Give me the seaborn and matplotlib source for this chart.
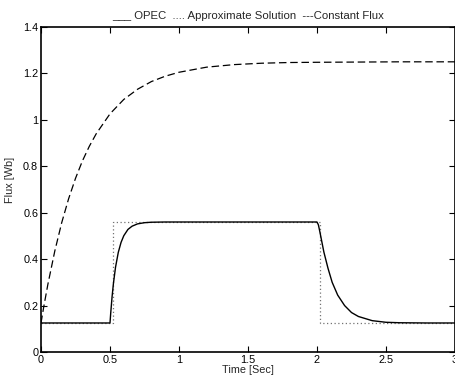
import numpy as np
import pandas as pd
import matplotlib
matplotlib.use("Agg")
import matplotlib.pyplot as plt
import seaborn as sns

# OPEC response (solid)
opec_t = [0.0, 0.5, 0.505, 0.515, 0.525, 0.54, 0.56, 0.58, 0.6, 0.63, 0.66, 0.7, 0.75, 0.8, 0.9, 1.0,
          1.5, 2.0, 2.01, 2.02, 2.05, 2.08, 2.11, 2.15, 2.2, 2.25, 2.3, 2.4, 2.5, 2.6, 2.8, 3.0]
opec_y = [0.125, 0.125, 0.166, 0.238, 0.296, 0.365, 0.429, 0.472, 0.501, 0.528, 0.542, 0.552, 0.557, 0.559, 0.56, 0.56,
          0.56, 0.56, 0.548, 0.52, 0.43, 0.36, 0.30, 0.245, 0.20, 0.17, 0.153, 0.135, 0.128, 0.126, 0.125, 0.125]

# Approximate solution (dotted)
approx_t = [0.0, 0.52, 0.52, 2.02, 2.02, 3.0]
approx_y = [0.125, 0.125, 0.56, 0.56, 0.125, 0.125]

# Constant flux (dashed)
const_t = [0.0, 0.02, 0.05, 0.1, 0.15, 0.2, 0.25, 0.3, 0.35, 0.4, 0.5, 0.6, 0.7, 0.8, 0.9, 1.0,
           1.2, 1.4, 1.6, 1.8, 2.0, 2.3, 2.6, 3.0]
const_y = [0.125, 0.195, 0.292, 0.435, 0.557, 0.660, 0.748, 0.823, 0.886, 0.940, 1.026, 1.088, 1.132, 1.165, 1.188, 1.205,
           1.227, 1.238, 1.244, 1.247, 1.248, 1.249, 1.25, 1.25]

x_ticks = [0, 0.5, 1, 1.5, 2, 2.5, 3]
x_tick_labels = ["0", "0.5", "1", "1.5", "2", "2.5", "3"]
y_ticks = [0, 0.2, 0.4, 0.6, 0.8, 1.0, 1.2, 1.4]
y_tick_labels = ["0", "0.2", "0.4", "0.6", "0.8", "1", "1.2", "1.4"]

sns.set_style("ticks")
plt.rcParams['font.family'] = ['Liberation Sans', 'DejaVu Sans']

fig = plt.figure(figsize=(4.56, 3.85), dpi=100)
ax = fig.add_axes([41/456, 1 - 352/385, 414/456, 325/385])

df_opec = pd.DataFrame({"t": opec_t, "y": opec_y})
df_approx = pd.DataFrame({"t": approx_t, "y": approx_y})
df_const = pd.DataFrame({"t": const_t, "y": const_y})

sns.lineplot(data=df_approx, x="t", y="y", ax=ax, estimator=None, sort=False,
             color="0.45", linewidth=0.9, linestyle=(0, (1, 2)))
sns.lineplot(data=df_opec, x="t", y="y", ax=ax, estimator=None, sort=False,
             color="black", linewidth=1.0)
sns.lineplot(data=df_const, x="t", y="y", ax=ax, estimator=None, sort=False,
             color="black", linewidth=0.9, linestyle=(0, (6, 3)))

ax.set_xlim(0, 3)
ax.set_ylim(0, 1.4)
ax.set_xticks(x_ticks)
ax.set_xticklabels(x_tick_labels)
ax.set_yticks(y_ticks)
ax.set_yticklabels(y_tick_labels)
ax.tick_params(direction="in", length=4, width=0.8, labelsize=7.8, top=True, right=True, pad=2,
               colors="black")
for s in ax.spines.values():
    s.set_linewidth(1.2)
    s.set_color("black")

ax.set_xlabel("Time [Sec]", fontsize=7.8, labelpad=0)
ax.set_ylabel("Flux [Wb]", fontsize=7.8)
ax.yaxis.set_label_coords(-0.064, 0.53)
ax.set_title("___ OPEC  .... Approximate Solution  ---Constant Flux", fontsize=8.2, pad=6)

fig.savefig("out.png", dpi=100)
